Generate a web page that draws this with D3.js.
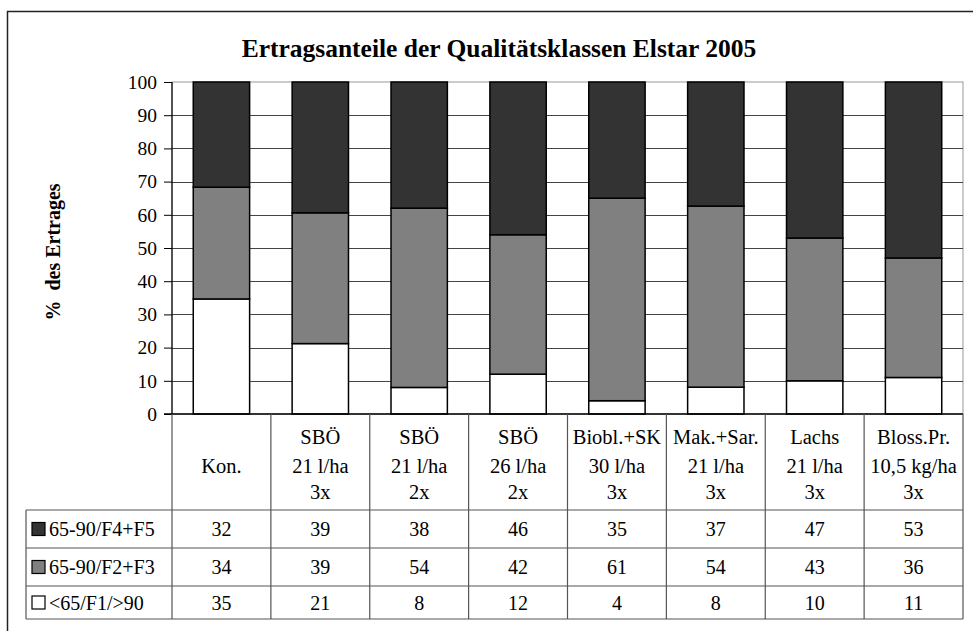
<!DOCTYPE html>
<html>
<head>
<meta charset="utf-8">
<script src="https://cdn.jsdelivr.net/npm/d3@7"></script>
<style>
  html, body { margin: 0; padding: 0; background: #fff; }
  svg text { font-family: "Liberation Serif", "Times New Roman", serif !important; fill: #000; }
</style>
</head>
<body>
<svg id="chart" width="973" height="631"></svg>
<script>
// ======== data
const categories = ["Kon.", "SBÖ 21/3", "SBÖ 21/2", "SBÖ 26/2", "Biobl.+SK", "Mak.+Sar.", "Lachs", "Bloss.Pr."];
const categoryLines = [
  ["", "Kon.", ""],
  ["SBÖ", "21 l/ha", "3x"],
  ["SBÖ", "21 l/ha", "2x"],
  ["SBÖ", "26 l/ha", "2x"],
  ["Biobl.+SK", "30 l/ha", "3x"],
  ["Mak.+Sar.", "21 l/ha", "3x"],
  ["Lachs", "21 l/ha", "3x"],
  ["Bloss.Pr.", "10,5 kg/ha", "3x"]
];
const seriesNames = ["<65/F1/>90", "65-90/F2+F3", "65-90/F4+F5"];
const low = [35, 21, 8, 12, 4, 8, 10, 11];
const mid = [34, 39, 54, 42, 61, 54, 43, 36];
const high = [32, 39, 38, 46, 35, 37, 47, 53];
const yTicks = [0, 10, 20, 30, 40, 50, 60, 70, 80, 90, 100];
const colors = ["#ffffff", "#808080", "#333333"];

// ======== layout
const svg = d3.select("#chart");
const plot = { left: 172, right: 963, top: 82, bottom: 414 };
const tableRows = [510, 548, 586, 619];
const tableLeft = 26;

// 100% stacked (row sums are 99..101 in the source)
const rows = categories.map((c, i) => ({ cat: c, s0: low[i], s1: mid[i], s2: high[i] }));
const stacked = d3.stack().keys(["s0", "s1", "s2"]).offset(d3.stackOffsetExpand)(rows);

const x = d3.scaleBand().domain(categories).range([plot.left, plot.right]).padding(0);
const y = d3.scaleLinear().domain([0, 100]).range([plot.bottom, plot.top]);
const barW = x.bandwidth() * 0.57;

// outer frame (cut off at right / bottom like the reference)
svg.append("rect")
  .attr("x", 7.5).attr("y", 11.5)
  .attr("width", 1000).attr("height", 700)
  .attr("fill", "none").attr("stroke", "#222").attr("stroke-width", 1.5);

// title
svg.append("text")
  .attr("x", 499).attr("y", 57)
  .attr("text-anchor", "middle")
  .attr("font-size", 25.5).attr("font-weight", "bold")
  .text("Ertragsanteile der Qualitätsklassen Elstar 2005");

// plot border + gridlines
svg.append("rect")
  .attr("x", plot.left).attr("y", plot.top)
  .attr("width", plot.right - plot.left).attr("height", plot.bottom - plot.top)
  .attr("fill", "none").attr("stroke", "#999").attr("stroke-width", 1);

svg.append("g")
  .selectAll("line")
  .data(yTicks.filter(t => t > 0 && t < 100))
  .join("line")
  .attr("x1", plot.left).attr("x2", plot.right)
  .attr("y1", d => Math.round(y(d)) + 0.5).attr("y2", d => Math.round(y(d)) + 0.5)
  .attr("stroke", "#444").attr("stroke-width", 1);

// bars
svg.append("g")
  .selectAll("g")
  .data(stacked)
  .join("g")
  .attr("fill", (d, i) => colors[i])
  .selectAll("rect")
  .data(d => d)
  .join("rect")
  .attr("x", d => x(d.data.cat) + (x.bandwidth() - barW) / 2)
  .attr("y", d => y(d[1] * 100))
  .attr("width", barW)
  .attr("height", d => y(d[0] * 100) - y(d[1] * 100))
  .attr("stroke", "#000").attr("stroke-width", 1.5);

// y axis
const yAxis = d3.axisLeft(y).tickValues(yTicks).tickSize(8).tickPadding(7);
svg.append("g")
  .attr("transform", `translate(${plot.left},0)`)
  .call(yAxis)
  .call(g => g.select(".domain").remove())
  .call(g => g.selectAll("line").attr("stroke", "#000"))
  .call(g => g.selectAll("text").attr("font-size", 19.5));

svg.append("line")
  .attr("x1", plot.left).attr("x2", plot.left)
  .attr("y1", plot.top).attr("y2", plot.bottom)
  .attr("stroke", "#000").attr("stroke-width", 1.2);
svg.append("line")
  .attr("x1", plot.left - 8).attr("x2", plot.right)
  .attr("y1", plot.bottom).attr("y2", plot.bottom)
  .attr("stroke", "#000").attr("stroke-width", 1.5);

// y axis title
svg.append("text")
  .attr("transform", `translate(60,252) rotate(-90)`)
  .attr("text-anchor", "middle")
  .attr("font-size", 20).attr("font-weight", "bold")
  .attr("xml:space", "preserve")
  .text("%  des Ertrages");

// ======== data table
const table = svg.append("g").attr("stroke", "#555").attr("stroke-width", 1.2);
const colEdges = categories.map(c => x(c)).concat([plot.right]);
table.selectAll("line.v")
  .data(colEdges)
  .join("line")
  .attr("class", "v")
  .attr("x1", d => d).attr("x2", d => d)
  .attr("y1", plot.bottom).attr("y2", tableRows[3]);
table.selectAll("line.h")
  .data(tableRows)
  .join("line")
  .attr("class", "h")
  .attr("x1", tableLeft).attr("x2", plot.right)
  .attr("y1", d => d).attr("y2", d => d);
table.append("line")
  .attr("x1", tableLeft).attr("x2", tableLeft)
  .attr("y1", tableRows[0]).attr("y2", tableRows[3]);

// category headers
const headerBaselines = [444, 473, 499];
svg.append("g")
  .selectAll("g")
  .data(categories)
  .join("g")
  .each(function (c, i) {
    d3.select(this).selectAll("text")
      .data(categoryLines[i])
      .join("text")
      .attr("x", x(c) + x.bandwidth() / 2)
      .attr("y", (d, j) => headerBaselines[j])
      .attr("text-anchor", "middle")
      .attr("font-size", 20.5)
      .text(d => d);
  });

// value rows: top = F4+F5, then F2+F3, then F1
const tableSeries = [
  { name: seriesNames[2], values: high, color: colors[2] },
  { name: seriesNames[1], values: mid, color: colors[1] },
  { name: seriesNames[0], values: low, color: colors[0] }
];
const rowG = svg.append("g")
  .selectAll("g")
  .data(tableSeries)
  .join("g")
  .attr("transform", (d, i) => `translate(0,${tableRows[i]})`);

rowG.append("rect")
  .attr("x", 32).attr("width", 13)
  .attr("y", (d, i) => (tableRows[i + 1] - tableRows[i]) / 2 - 6.5)
  .attr("height", 13)
  .attr("fill", d => d.color).attr("stroke", "#000").attr("stroke-width", 1.2);

rowG.append("text")
  .attr("x", 49)
  .attr("y", (d, i) => (tableRows[i + 1] - tableRows[i]) / 2 + 7)
  .attr("font-size", 20)
  .text(d => d.name);

rowG.each(function (s, i) {
  const h = tableRows[i + 1] - tableRows[i];
  d3.select(this).selectAll("text.v")
    .data(s.values)
    .join("text")
    .attr("class", "v")
    .attr("x", (d, j) => x(categories[j]) + x.bandwidth() / 2)
    .attr("y", h / 2 + 7)
    .attr("text-anchor", "middle")
    .attr("font-size", 20)
    .text(d => d);
});
</script>
</body>
</html>
